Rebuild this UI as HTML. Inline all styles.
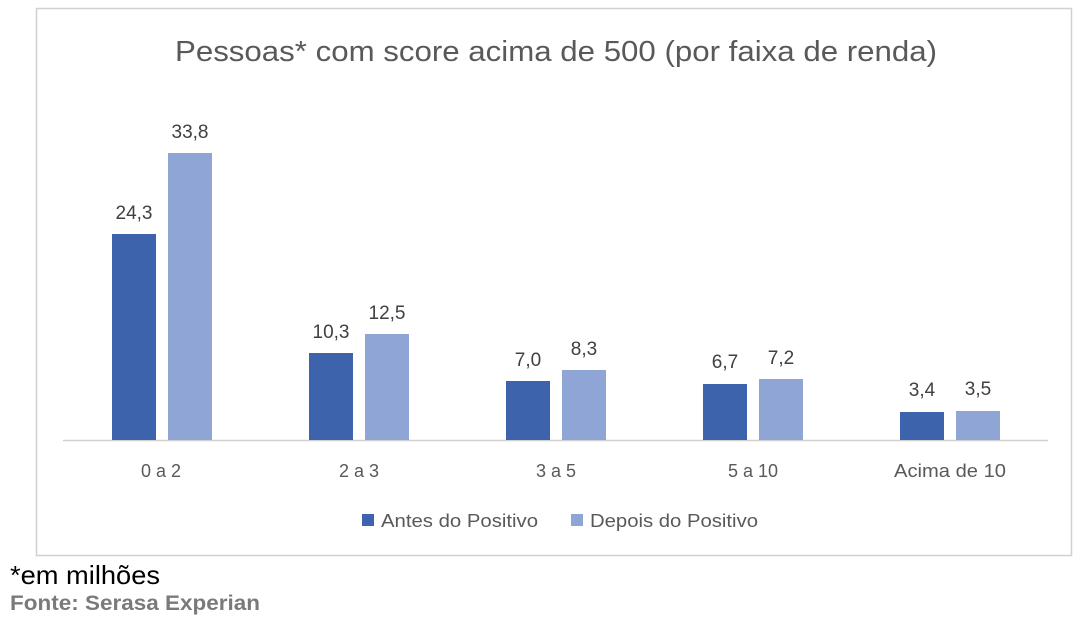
<!DOCTYPE html>
<html><head><meta charset="utf-8"><style>
body{margin:0;background:#fff;width:1083px;height:621px;overflow:hidden;font-family:"Liberation Sans",sans-serif}
</style></head><body>
<svg width="1083" height="621" xmlns="http://www.w3.org/2000/svg" font-family="Liberation Sans, sans-serif">
<rect x="36.5" y="8.5" width="1035" height="547" fill="#fff" stroke="#d0d0d0" stroke-width="1.5"/>
<text x="175" y="61" textLength="762" lengthAdjust="spacingAndGlyphs" font-size="29" fill="#595959">Pessoas*  com score acima de 500 (por faixa de renda)</text>
<line x1="63" y1="440.5" x2="1048" y2="440.5" stroke="#d0d0d0" stroke-width="1.5"/>
<g fill="#3c63ac">
<rect x="112" y="234" width="44" height="206"/>
<rect x="309" y="353" width="44" height="87"/>
<rect x="506" y="381" width="44" height="59"/>
<rect x="703" y="384" width="44" height="56"/>
<rect x="900" y="412" width="44" height="28"/>
</g>
<g fill="#8fa5d6">
<rect x="168" y="153" width="44" height="287"/>
<rect x="365" y="334" width="44" height="106"/>
<rect x="562" y="370" width="44" height="70"/>
<rect x="759" y="379" width="44" height="61"/>
<rect x="956" y="411" width="44" height="29"/>
</g>
<g font-size="19" fill="#404040" text-anchor="middle">
<text x="134" y="219">24,3</text><text x="190" y="138">33,8</text>
<text x="331" y="338">10,3</text><text x="387" y="319">12,5</text>
<text x="528" y="366">7,0</text><text x="584" y="355">8,3</text>
<text x="725" y="368">6,7</text><text x="781" y="364">7,2</text>
<text x="922" y="396">3,4</text><text x="978" y="395">3,5</text>
</g>
<g font-size="18" fill="#595959" text-anchor="middle">
<text x="161" y="477">0 a 2</text><text x="359" y="477">2 a 3</text>
<text x="556" y="477">3 a 5</text><text x="753" y="477">5 a 10</text>
<text x="950" y="477" textLength="112" lengthAdjust="spacingAndGlyphs">Acima de 10</text>
</g>
<rect x="362" y="514" width="12" height="12" fill="#3c63ac"/>
<text x="381" y="527" font-size="18" fill="#595959" textLength="157" lengthAdjust="spacingAndGlyphs">Antes do Positivo</text>
<rect x="571" y="514" width="12" height="12" fill="#8fa5d6"/>
<text x="590" y="527" font-size="18" fill="#595959" textLength="168" lengthAdjust="spacingAndGlyphs">Depois do Positivo</text>
<text x="10" y="584" font-size="26" fill="#000" textLength="150" lengthAdjust="spacingAndGlyphs">*em milhões</text>
<text x="10" y="610" font-size="21" font-weight="bold" fill="#7a7a7a" textLength="250" lengthAdjust="spacingAndGlyphs">Fonte: Serasa Experian</text>
</svg>
</body></html>
